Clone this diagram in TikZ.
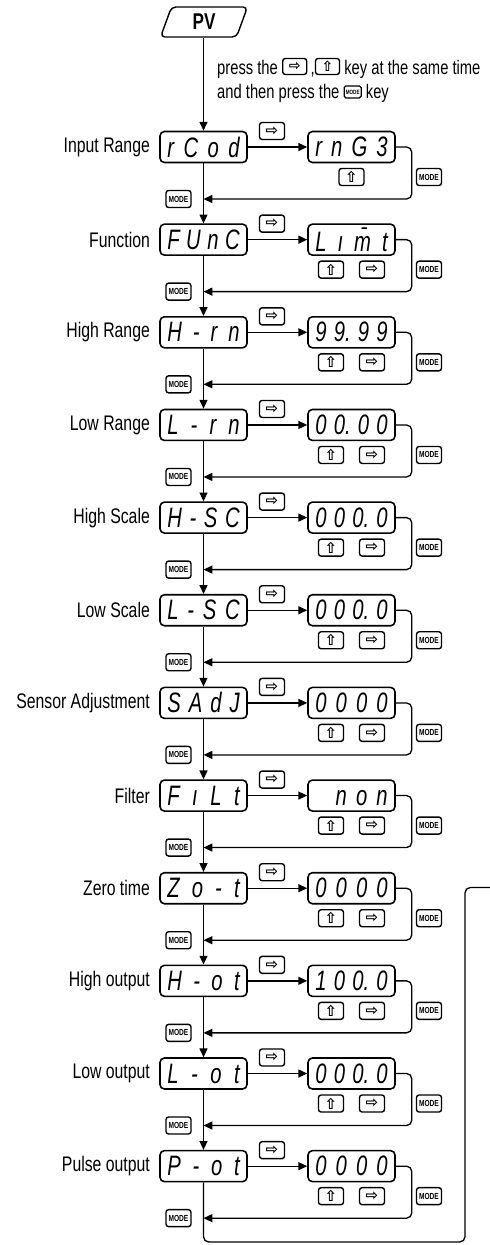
\documentclass[tikz,border=0pt]{standalone}
\usepackage{fontspec}
\setmainfont{Liberation Sans}[FakeStretch=0.75]
\newfontfamily\symfont{DejaVu Sans}
\newfontfamily\segfont{Liberation Sans}[FakeStretch=0.72]
\usetikzlibrary{arrows.meta, calc, positioning, shapes.geometric}

% keys inside the note text
\newcommand{\keyicon}[1]{\tikz[baseline=-0.75ex]\node[draw, rounded corners=1.5pt, line width=0.8pt, minimum width=0.48cm, minimum height=0.32cm, inner sep=0pt, font=\symfont\bfseries\fontsize{8}{8}\selectfont]{#1};}
\newcommand{\modeicon}{\tikz[baseline=-0.6ex]\node[draw, rounded corners=1pt, line width=0.7pt, minimum width=0.34cm, minimum height=0.24cm, inner sep=0pt, font=\bfseries\fontsize{3.5}{3.5}\selectfont]{MODE};}
% spread the display characters over the window
\newcommand{\seg}[1]{{\frenchspacing\makebox[1.45cm][s]{#1}}}

\begin{document}
\begin{tikzpicture}[x=0.02cm, y=-0.02cm,
    disp/.style={rectangle, draw, rounded corners=2.5pt, minimum width=1.74cm, minimum height=0.62cm, inner sep=0pt, line width=0.9pt, font=\segfont\itshape\fontsize{16}{16}\selectfont},
    key/.style={rectangle, draw, rounded corners=1.5pt, minimum width=0.5cm, minimum height=0.34cm, inner sep=0pt, line width=0.8pt, font=\symfont\bfseries\fontsize{8.5}{8.5}\selectfont},
    modekey/.style={key, font=\bfseries\fontsize{5}{5}\selectfont},
    rowname/.style={inner sep=0pt, font=\fontsize{12}{12}\selectfont},
    pv/.style={trapezium, trapezium left angle=78, trapezium right angle=102, trapezium stretches=true, draw, rounded corners=2.5pt, minimum width=1.74cm, minimum height=0.6cm, line width=0.8pt, font=\bfseries\fontsize{13}{13}\selectfont},
    arrow/.style={-{Triangle[length=5pt, width=4.5pt]}, line width=0.75pt},
    wire/.style={line width=0.75pt, rounded corners=3pt}
]
    \useasboundingbox (0,0) rectangle (490,1245);

    % 开始
    \node[pv] (pv) at (204,22) {PV};
    \node[anchor=west, align=left, font=\fontsize{11.2}{13.6}\selectfont] (note) at (211,80)
        {press the \keyicon{⇨}\,,\keyicon{⇧} key at the same time\\and then press the \modeicon{} key};

    % 参数行
    \foreach \i/\name/\code/\val in {
        1/Input Range/{r C o d}/{r n G 3},
        2/Function/{F U n C}/{L ı \={m} t},
        3/High Range/{H - r n}/{9 9. 9 9},
        4/Low Range/{L - r n}/{0 0. 0 0},
        5/High Scale/{H - S C}/{0 0 0. 0},
        6/Low Scale/{L - S C}/{0 0 0. 0},
        7/Sensor Adjustment/{S A d J}/{0 0 0 0},
        8/Filter/{F ı L t}/{\phantom{0} n o n},
        9/Zero time/{Z o - t}/{0 0 0 0},
        10/High output/{H - o t}/{1 0 0. 0},
        11/Low output/{L - o t}/{0 0 0. 0},
        12/Pulse output/{P - o t}/{0 0 0 0}} {
        \pgfmathsetmacro{\yy}{147+(\i-1)*92.65}
        \node[disp] (l\i) at (203.5,\yy) {\seg{\code}};
        \node[rowname, left=0.18cm of l\i] (n\i) {\name};
        \node[disp] (r\i) at (351.5,\yy) {\seg{\val}};
        \node[key] (k\i) at (272,\yy-16) {⇨};
        \node[modekey] (mr\i) at (429,\yy+30) {MODE};
        \node[modekey] (ml\i) at (178.5,\yy+52) {MODE};
        \ifnum\i=1
            \node[key] (u\i) at (351.5,\yy+30) {⇧};
        \else
            \node[key] (u\i) at (331,\yy+30) {⇧};
            \node[key] (s\i) at (372,\yy+30) {⇨};
        \fi
        \draw[arrow] (l\i) -- (r\i);
        \draw[arrow, rounded corners=3pt] (r\i.east) -- ++(16,0) |- (l\i.south |- ml\i.east);
    }

    % 箭头：主线
    \draw[arrow] (pv.south -| l1.north) -- (l1.north);
    \foreach \i [evaluate=\i as \j using int(\i+1)] in {1,...,10,11}
        \draw[arrow] (l\i) -- (l\j);

    % 回到 Zero time
    \coordinate (back) at (490,887.5);
    \draw[wire] (l12.south) |- (465,1242) |- (back);
\end{tikzpicture}
\end{document}
